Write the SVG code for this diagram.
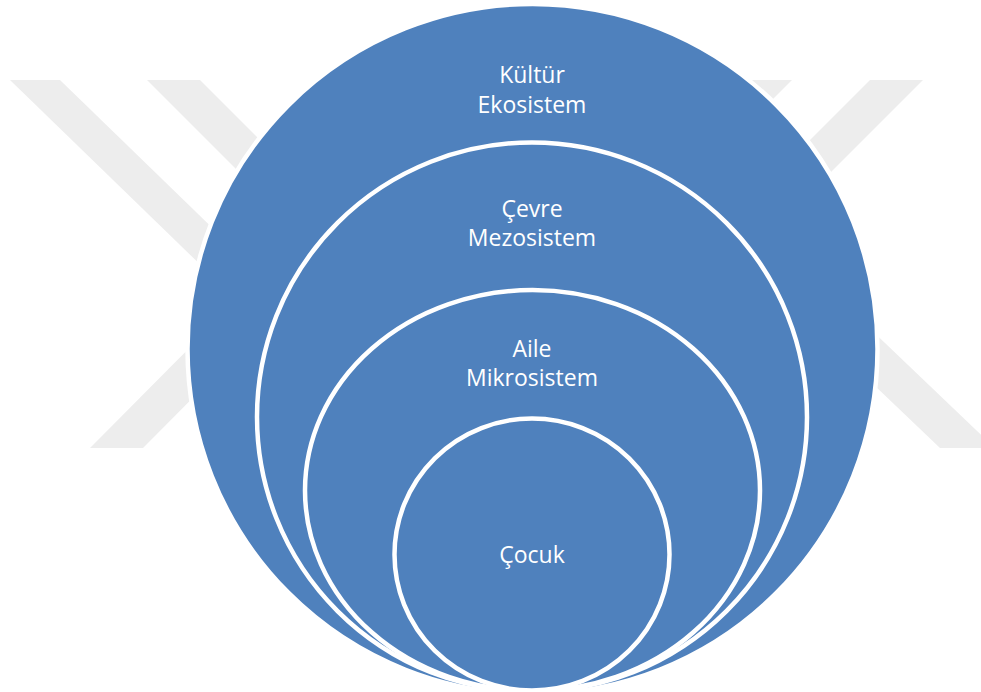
<svg xmlns="http://www.w3.org/2000/svg" width="981" height="692" viewBox="0 0 981 692">
  <style>
    .band { fill: #EDEDED; }
    .ring { fill: #4F81BD; stroke: #FFFFFF; stroke-width: 4.5; }
    .label { font-family: "Open Sans", "Liberation Sans", sans-serif; font-size: 23px; fill: #FFFFFF; text-anchor: middle; }
  </style>
  <rect width="981" height="692" fill="#FFFFFF"/>

  <!-- faint background emblem: diagonal bands -->
  <g id="emblem">
    <polygon class="band" points="10,80 60,80 330,342 280,342"/>
    <polygon class="band" points="147,80 200,80 350,230 297,230"/>
    <polygon class="band" points="90,448 143,448 290,300 237,300"/>
    <polygon class="band" points="742,80 792,80 650,222 600,222"/>
    <polygon class="band" points="870,80 923,80 780,223 727,223"/>
    <polygon class="band" points="940,448 995,448 840,300 785,300"/>
  </g>

  <!-- stacked levels, all resting on the same base line -->
  <g id="kultur">
    <circle class="ring" cx="532.5" cy="349" r="345"/>
    <text class="label" x="532" y="83">Kültür</text>
    <text class="label" x="532" y="113">Ekosistem</text>
  </g>
  <g id="cevre">
    <ellipse class="ring" cx="532" cy="417" rx="275" ry="274.5"/>
    <text class="label" x="532" y="217">Çevre</text>
    <text class="label" x="532" y="246">Mezosistem</text>
  </g>
  <g id="aile">
    <ellipse class="ring" cx="532.5" cy="490.5" rx="227.5" ry="200.5"/>
    <text class="label" x="532" y="357">Aile</text>
    <text class="label" x="532" y="386">Mikrosistem</text>
  </g>
  <g id="cocuk">
    <ellipse class="ring" cx="532" cy="554.5" rx="137.5" ry="136"/>
    <text class="label" x="532" y="563">Çocuk</text>
  </g>
</svg>
